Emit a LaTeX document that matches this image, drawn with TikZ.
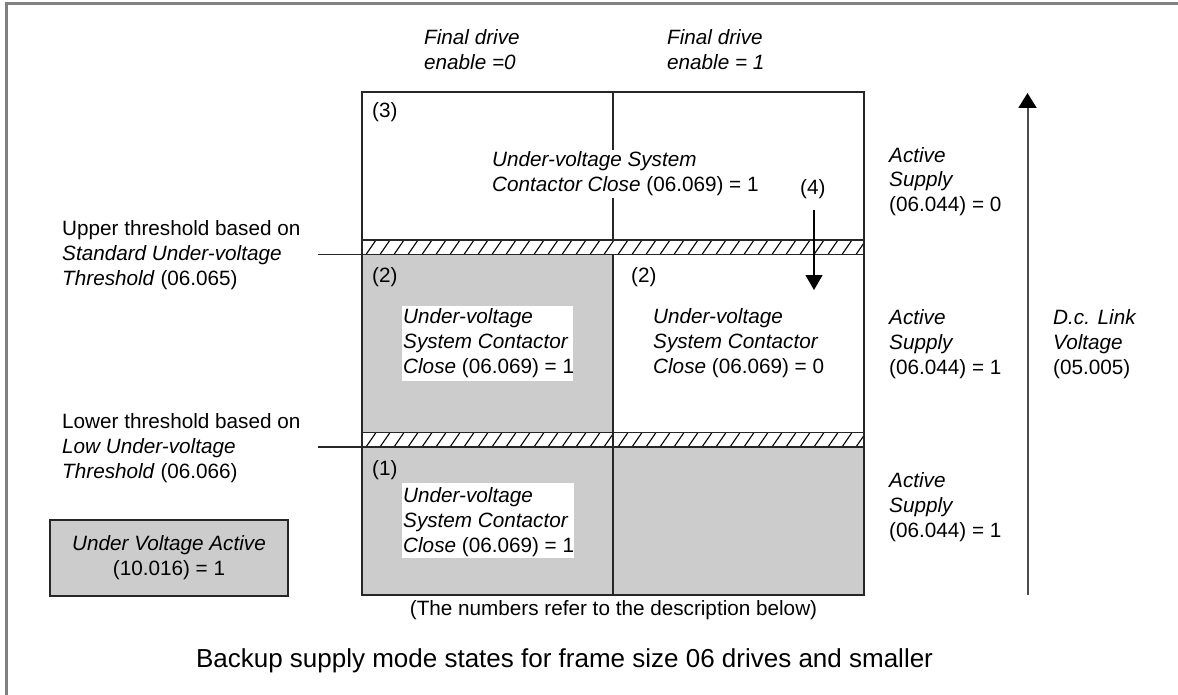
\documentclass[tikz,border=0pt]{standalone}
\usepackage{fontspec}
\setmainfont{Liberation Sans}
\usetikzlibrary{arrows.meta}
\newcommand\fsn{\fontsize{20.7}{25}\selectfont}
\newcommand\fst{\fontsize{26}{31}\selectfont}
\definecolor{shadegray}{HTML}{CCCCCC}
\definecolor{framegray}{HTML}{808080}
\begin{document}
\begin{tikzpicture}[x=1pt,y=-1pt,
  lbl/.style={font=\fsn, inner sep=0pt, anchor=base west, align=left},
  ilbl/.style={lbl, font=\fsn\itshape},
  boxline/.style={draw=black!85, line width=1.6pt},
  thinline/.style={draw=black!85, line width=1.2pt},
  hatchline/.style={draw=black, line width=1.1pt}]
\useasboundingbox (0,0) rectangle (1178,695);
% outer frame (left and top edges)
\draw[framegray, line width=3pt] (6,695) -- (6,4) -- (1178,4);

% shaded regions
\fill[shadegray] (362,255) rectangle (613,433);
\fill[shadegray] (362,447) rectangle (864,595);
\fill[white] (402,306) rectangle (573,381);
\fill[white] (402,483) rectangle (574,558);

% hatched threshold bands
\foreach \y in {240,432.5} {
  \begin{scope}
    \clip (362,\y) rectangle (864,\y+14.5);
    \foreach \x in {352,366,...,878} \draw[hatchline] (\x,\y+14.5) -- (\x+10,\y);
  \end{scope}
  \draw[thinline] (362,\y) -- (864,\y);
  \draw[thinline] (362,\y+14.5) -- (864,\y+14.5);
}

% dividers
\draw[thinline] (613,92) -- (613,240);
\draw[boxline] (613,254.5) -- (613,595);
% main box outline
\draw[boxline] (362,92) rectangle (864,595);

% leader lines to thresholds
\coordinate (up) at (318,254.5);
\coordinate (lo) at (318,447);
\draw[thinline] (up) -- (362,254.5);
\draw[thinline] (lo) -- (362,447);

% column headings (anchor = baseline of last line)
\node[ilbl] (fd0) at (424,70) {Final drive\\enable =0};
\node[ilbl] (fd1) at (667,70) {Final drive\\enable = 1};

% region labels
\node[lbl] (r3) at (372,118) {(3)};
\node[lbl] (r2a) at (372,282) {(2)};
\node[lbl] (r2b) at (631,282) {(2)};
\node[lbl] (r1) at (372,475) {(1)};

\node[lbl, fill=white, inner ysep=2pt] (t3) at (492,192) {\textit{Under-voltage System}\\\textit{Contactor Close} (06.069) = 1};
\node[lbl] (t2a) at (403,373) {\textit{Under-voltage}\\\textit{System Contactor}\\\textit{Close} (06.069) = 1};
\node[lbl] (t2b) at (653,373) {\textit{Under-voltage}\\\textit{System Contactor}\\\textit{Close} (06.069) = 0};
\node[lbl] (t1) at (403,552) {\textit{Under-voltage}\\\textit{System Contactor}\\\textit{Close} (06.069) = 1};

% (4) transition arrow
\node[lbl] (n4) at (800,195) {(4)};
\coordinate (a4s) at (814,210);
\coordinate (a4e) at (814,290);
\draw[line width=1.3pt, -{Triangle[width=17pt,length=15pt]}] (a4s) -- (a4e);

% left threshold labels
\node[lbl] (upl) at (62,285) {Upper threshold based on\\\textit{Standard Under-voltage}\\\textit{Threshold} (06.065)};
\node[lbl] (lol) at (62,478) {Lower threshold based on\\\textit{Low Under-voltage}\\\textit{Threshold} (06.066)};

% legend
\node[draw=black!85, line width=1.6pt, fill=shadegray, minimum width=238pt, minimum height=76pt, align=center, font=\fsn, inner sep=0pt] (uva) at (169,558) {\textit{Under Voltage Active}\\(10.016) = 1};

% right labels
\node[lbl] (as0) at (889,212) {\textit{Active}\\\textit{Supply}\\(06.044) = 0};
\node[lbl] (as1) at (889,374) {\textit{Active}\\\textit{Supply}\\(06.044) = 1};
\node[lbl] (as2) at (889,537) {\textit{Active}\\\textit{Supply}\\(06.044) = 1};

% D.c. link voltage axis
\coordinate (vb) at (1027.5,595);
\coordinate (vt) at (1027.5,93);
\draw[line width=2pt, black!70, -{Triangle[width=18pt,length=15pt,color=black]}] (vb) -- (vt);
\node[lbl] (dcl) at (1053,374) {\textit{D.c. Link}\\\textit{Voltage}\\(05.005)};

% captions
\node[font=\fsn, anchor=base, inner sep=0pt] (cap) at (613.5,615) {(The numbers refer to the description below)};
\node[font=\fst, anchor=base, inner sep=0pt] (title) at (564.5,667) {Backup supply mode states for frame size 06 drives and smaller};
\end{tikzpicture}
\end{document}
